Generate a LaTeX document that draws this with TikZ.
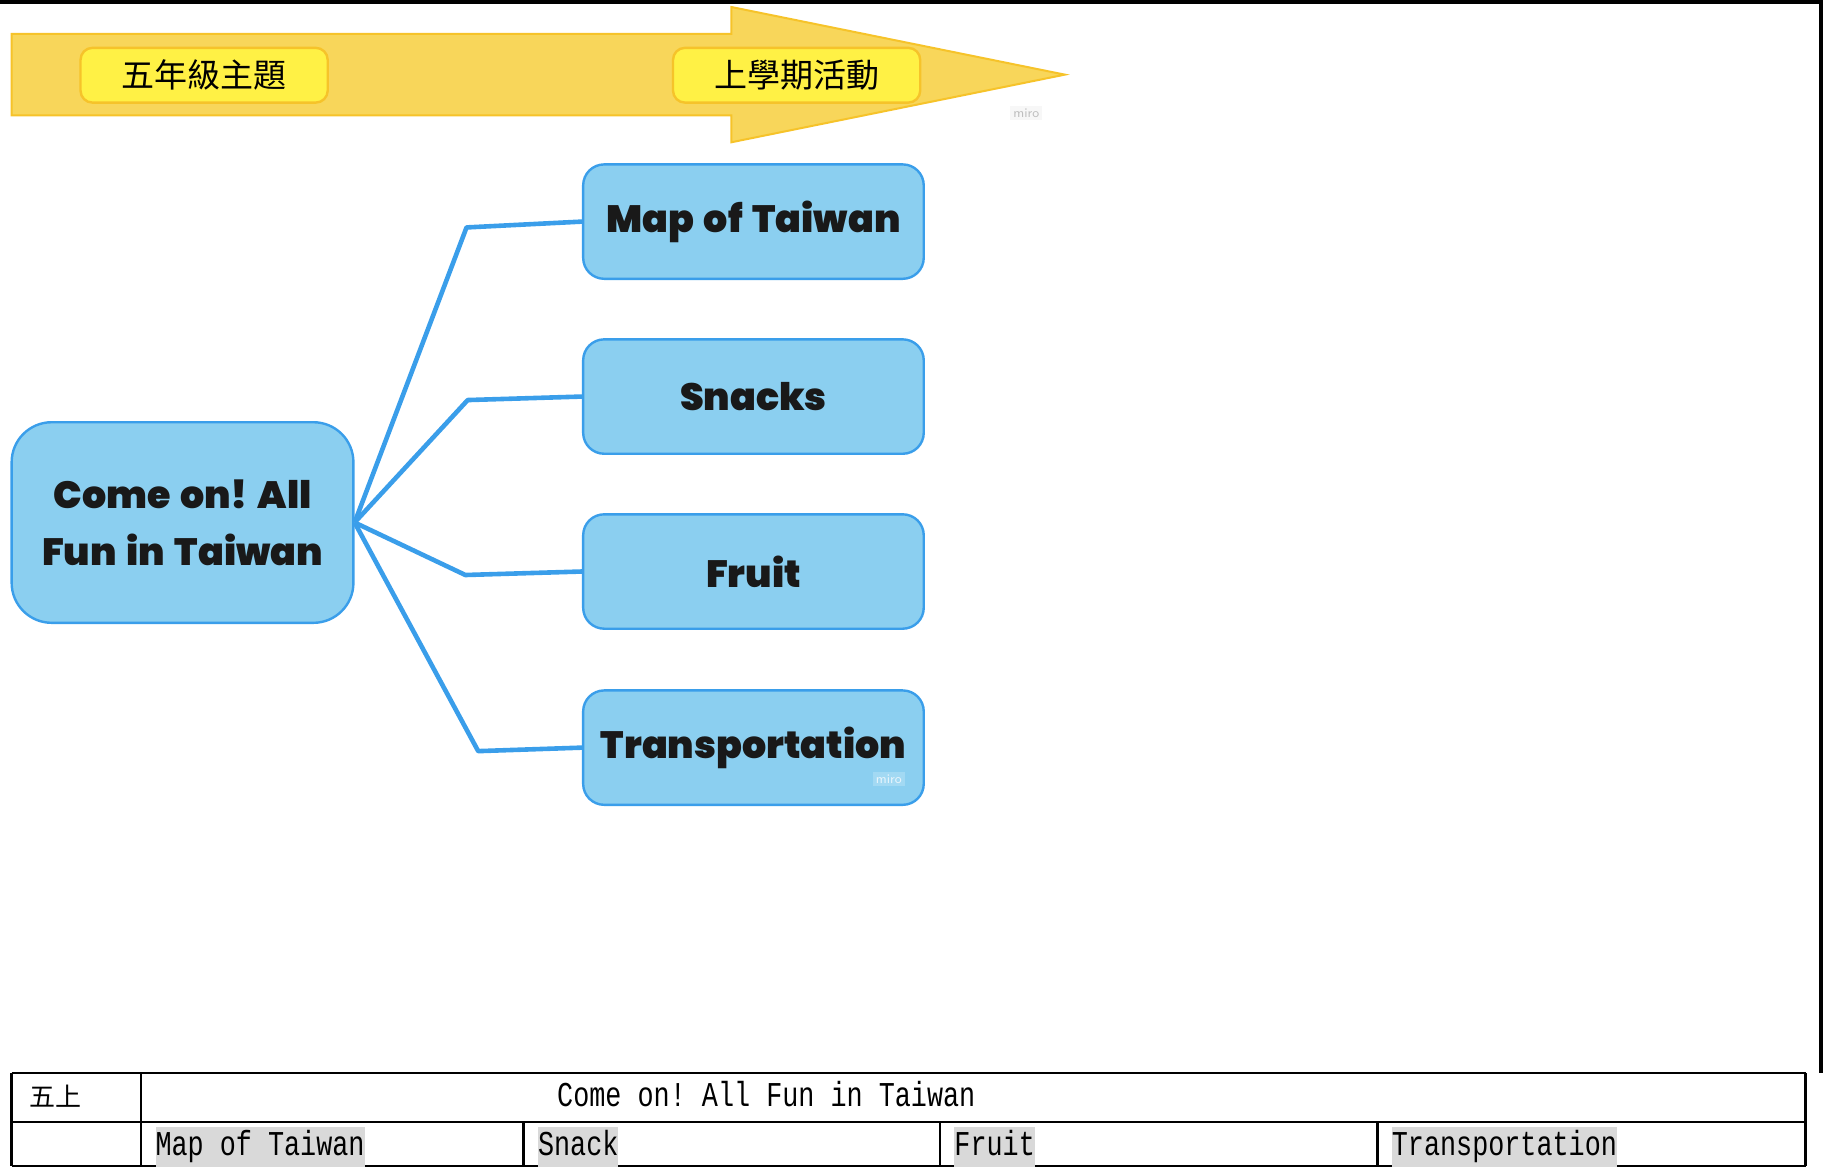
\documentclass[tikz,border=0pt]{standalone}
\usepackage{fontspec}
\usepackage{graphicx}
\setmainfont{Poppins}[BoldFont={Poppins Black}, BoldFeatures={WordSpace=1.5}]
\newfontfamily\cjk{Noto Sans CJK TC}
\newfontfamily\tblfont{Liberation Mono}
\definecolor{arrowfill}{HTML}{F8D65A}
\definecolor{arrowline}{HTML}{F6C32A}
\definecolor{boxfill}{HTML}{FFF145}
\definecolor{bluefill}{HTML}{8BCFF0}
\definecolor{blueline}{HTML}{3A9EEA}
\definecolor{hl}{HTML}{D9D9D9}
\tikzset{
  yelbox/.style={draw=arrowline, line width=1.2pt, fill=boxfill, rounded corners=6pt,
    minimum width=123.6pt, minimum height=27.4pt, inner sep=0pt, font=\cjk\fontsize{16.5}{18}\selectfont},
  topic/.style={draw=blueline, line width=1.2pt, fill=bluefill, rounded corners=10.5pt,
    minimum width=170.3pt, minimum height=57.2pt, inner sep=0pt, font=\bfseries\fontsize{19}{22}\selectfont, text=black!90},
  central/.style={draw=blueline, line width=1.2pt, fill=bluefill, rounded corners=20pt,
    minimum width=170.9pt, minimum height=100.3pt, inner sep=0pt, align=center,
    font=\bfseries\frenchspacing\fontsize{19}{28.6}\selectfont, text=black!90},
  conn/.style={draw=blueline, line width=2.3pt, line join=round},
  tline/.style={line width=1.3pt, black},
  ttext/.style={inner sep=0pt, anchor=base west, font=\tblfont\frenchspacing\fontsize{13.4}{16}\selectfont},
  hltext/.style={ttext, fill=hl, text height=14.3pt, text depth=5.5pt},
  wm/.style={fill=black!3, text=black!25, inner sep=1.5pt, font=\sffamily\fontsize{6.5}{7}\selectfont}
}
\begin{document}
\begin{tikzpicture}[x=0.5832pt, y=-0.5832pt]
\useasboundingbox (0,0) rectangle (1563,1001.4);
% page border
\draw[line width=2pt] (0,2) -- (1561,2) -- (1561,920);
% timeline arrow
\draw[draw=arrowline, fill=arrowfill, line width=1pt, line join=miter]
  (10,29) -- (627,29) -- (627,6) -- (913,64) -- (627,122) -- (627,99) -- (10,99) -- cycle;
\node[yelbox] (grade) at (175,64.5) {五年級主題};
\node[yelbox] (term) at (683,64.5) {上學期活動};
\node[wm] (wm1) at (880,97) {miro};
% mind map
\node[central] (c) at (156.5,448) {Come on! All\\Fun in Taiwan};
\node[topic] (m) at (646,190) {Map of Taiwan};
\node[topic] (s) at (646,340) {Snacks};
\node[topic] (f) at (646,490) {Fruit};
\node[topic] (t) at (646,641) {Transportation};
\node[wm, fill=bluefill!80!white, text=white!80!bluefill] (wm2) at (762,668) {miro};
\coordinate (em) at (400,195);
\coordinate (es) at (401,343);
\coordinate (ef) at (399,493);
\coordinate (et) at (410,644);
\draw[conn] (c.east) -- (em) -- (m.west);
\draw[conn] (c.east) -- (es) -- (s.west);
\draw[conn] (c.east) -- (ef) -- (f.west);
\draw[conn] (c.east) -- (et) -- (t.west);
% table
\draw[tline] (10,920) -- (1548,920);
\draw[tline] (10,962) -- (1548,962);
\draw[tline] (10,999.8) -- (1548,999.8);
\draw[tline] (10,920) -- (10,999.8);
\draw[tline] (1548,920) -- (1548,999.8);
\draw[tline] (121,920) -- (121,999.8);
\draw[tline] (449,962) -- (449,999.8);
\draw[tline] (806,962) -- (806,999.8);
\draw[tline] (1181,962) -- (1181,999.8);
\node[ttext, font=\cjk\fontsize{13}{15}\selectfont] (g5) at (25,949) {五上};
\node[ttext, anchor=base] (title) at (657,949) {\scalebox{1}[1.3]{Come on! All Fun in Taiwan}};
\node[hltext] (c1) at (133,991) {\scalebox{1}[1.3]{Map of Taiwan}};
\node[hltext] (c2) at (461,991) {\scalebox{1}[1.3]{Snack}};
\node[hltext] (c3) at (818,991) {\scalebox{1}[1.3]{Fruit}};
\node[hltext] (c4) at (1193,991) {\scalebox{1}[1.3]{Transportation}};
\end{tikzpicture}
\end{document}
